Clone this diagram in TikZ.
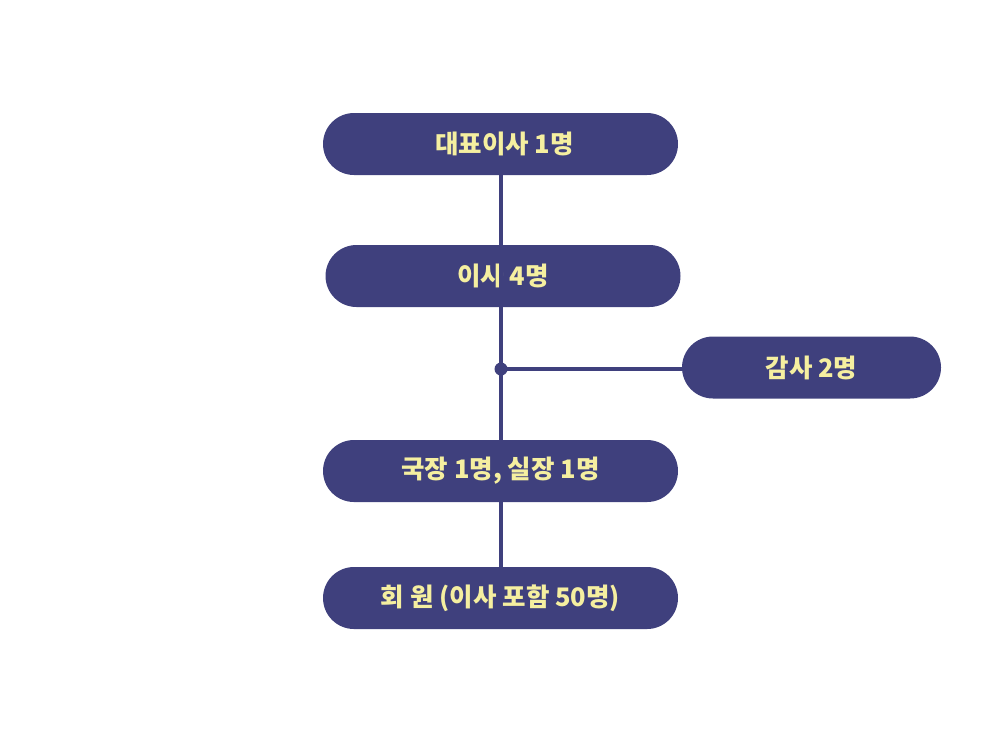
\documentclass[tikz,border=0pt]{standalone}
\usepackage{fontspec}
\newfontfamily\kr{Noto Sans CJK KR}
\definecolor{boxc}{HTML}{3F407D}
\definecolor{txtc}{HTML}{F5EFA0}
\begin{document}
\begin{tikzpicture}[x=1pt,y=-1pt,
  pill/.style={draw=none, fill=boxc, rounded corners=31pt, minimum height=62pt, inner sep=0pt,
    text=txtc, font=\kr\bfseries\fontsize{25.5}{30}\selectfont},
  wide/.style={pill, minimum width=355pt},
  conn/.style={draw=boxc, line width=3.2pt}]
\useasboundingbox (0,0) rectangle (1000,748);
\node[wide] (a) at (500.5,144) {\hspace{8pt}대표이사 1명};
\node[wide] (b) at (503,276) {이사 4명};
\node[pill, minimum width=259pt] (c) at (811.5,367.5) {감사 2명};
\node[wide] (d) at (500.5,471) {국장 1명, 실장 1명};
\node[wide] (e) at (500.5,598) {회 원 (이사 포함 50명)};
\coordinate (j) at (501,369);
\coordinate (jt) at (501,307);
\draw[conn] (a.south -| j) -- (jt);
\draw[conn] (jt) -- (d.north -| j);
\draw[conn] (d.south -| j) -- (e.north -| j);
\draw[conn] (j) -- (c.west |- j);
\fill[boxc] (j) circle (6.5pt);
\end{tikzpicture}
\end{document}
